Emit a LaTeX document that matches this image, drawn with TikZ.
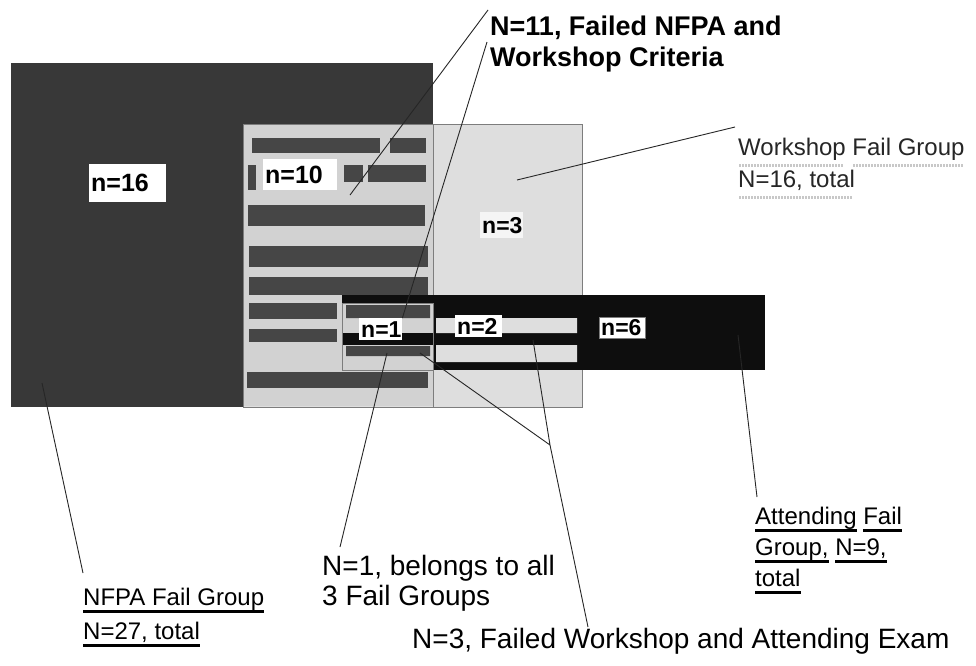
\documentclass[tikz,border=0pt]{standalone}
\usepackage{fontspec}
\setmainfont{Liberation Sans}
\usetikzlibrary{calc}
\definecolor{nfpa}{RGB}{56,56,56}
\definecolor{shop}{RGB}{210,210,210}
\definecolor{shopout}{RGB}{222,222,222}
\definecolor{bar}{RGB}{70,70,70}
\definecolor{attend}{RGB}{14,14,14}
\definecolor{rim}{RGB}{125,125,125}
\definecolor{dotline}{RGB}{200,200,200}
\newcommand{\hul}[1]{\setbox0\hbox{#1}\rlap{\rule[-7pt]{\wd0}{3pt}}\box0\relax}
\newcommand{\dul}[1]{\setbox0\hbox{#1}\rlap{\color{dotline}\lower11pt\hbox to \wd0{\leaders\hbox to 3pt{\hss\vrule width 2pt height 2.5pt\hss}\hfill}}\box0\relax}

\begin{document}
\begin{tikzpicture}[x=1pt,y=-1pt,
    count/.style={fill=white,anchor=north west,inner sep=2pt,align=left,
                  font=\bfseries\fontsize{23}{23}\selectfont},
    bigcount/.style={count,font=\bfseries\fontsize{25}{25}\selectfont},
    leader/.style={draw=black!85,line width=0.9pt},
    callout/.style={anchor=north west,inner sep=0pt,align=left}]
  \useasboundingbox[fill=white] (0,0) rectangle (976,665);
  % fail groups
  \fill[nfpa] (11,63) rectangle (433,407);
  \filldraw[fill=shopout,draw=rim] (243,124) rectangle (582,407);
  \fill[shop] (244,125) rectangle (433,406);
  \foreach \xa/\ya/\xb/\yb in {252/138/380/153, 390/138/426/153, 248/165/256/190,
      344/165/363/182, 368/165/426/182, 248/205/425/226, 249/246/428/267,
      249/277/428/295, 249/303/337/319, 249/329/337/342, 247/372/428/388}
    \fill[bar] (\xa,\ya) rectangle (\xb,\yb);
  \draw[rim] (433,124) -- (433,407);
  \fill[attend] (342,295) rectangle (765,370);
  \filldraw[fill=shop,draw=rim] (342,303) rectangle (433,370);
  \fill[attend] (343,333) rectangle (433,345);
  \fill[bar] (346,305) rectangle (430,318) (346,346) rectangle (430,356);
  \fill[shopout] (436,318) rectangle (577,333) (436,345) rectangle (577,362);

  % counts
  \node[bigcount,text width=73pt,minimum height=38pt] (n16) at (89,164) {n=16};
  \node[bigcount,text width=70pt,minimum height=31pt] (n10) at (263,159) {n=10};
  \node[count,fill=gray!8,text width=39pt,minimum height=26pt] (n3) at (480,212) {n=3};
  \node[count,text width=39pt,minimum height=22pt] (n1) at (359,318) {n=1};
  \node[count,text width=43pt,minimum height=22pt] (n2) at (455,315) {n=2};
  \node[count,draw=rim,text width=42pt,minimum height=21pt] (n6) at (599,317) {n=6};

  % callouts
  \node[callout,font=\bfseries\fontsize{27}{31}\selectfont] (crit) at (490,16)
    {N=11, Failed NFPA and\\Workshop Criteria};
  \node[callout,font=\fontsize{24}{32}\selectfont,text=black!85] (shopgrp) at (738,138)
    {\dul{Workshop} \dul{Fail Group}\\\dul{N=16, total}};
  \node[callout,font=\fontsize{24}{34}\selectfont] (nfpagrp) at (83,588)
    {\hul{NFPA Fail Group}\\\hul{N=27, total}};
  \node[callout,font=\fontsize{24}{31}\selectfont] (attgrp) at (755,507)
    {\hul{Attending} \hul{Fail}\\\hul{Group,} \hul{N=9,}\\\hul{total}};
  \node[callout,font=\fontsize{28}{30}\selectfont] (all3) at (322,555)
    {N=1, belongs to all\\3 Fail Groups};
  \node[callout,font=\fontsize{28}{30}\selectfont] (shopatt) at (412,628)
    {N=3, Failed Workshop and Attending Exam};

  % leader lines
  \coordinate (c10) at (350,195);
  \coordinate (c111) at (387,353);
  \coordinate (fork) at (550,445);
  \coordinate (cleft) at (420,353);
  \coordinate (cright) at (533,340);
  \coordinate (cshop) at (517,180);
  \coordinate (cnfpa) at (42,383);
  \coordinate (catt) at (738,335);
  \draw[leader] ([shift={(-2,-6)}]crit.north west) -- (c10);
  \draw[leader] ([shift={(-3,26)}]crit.north west) -- (n1.north east);
  \draw[leader] ([shift={(-3,-11)}]shopgrp.north west) -- (cshop);
  \draw[leader] ([shift={(0,-15)}]nfpagrp.north west) -- (cnfpa);
  \draw[leader] ([shift={(18,-8)}]all3.north west) -- (c111);
  \draw[leader] ([shift={(176,-1)}]shopatt.north west) -- (fork) -- (cleft)
                (fork) -- (cright);
  \draw[leader] ([shift={(2,-10)}]attgrp.north west) -- (catt);
\end{tikzpicture}
\end{document}
